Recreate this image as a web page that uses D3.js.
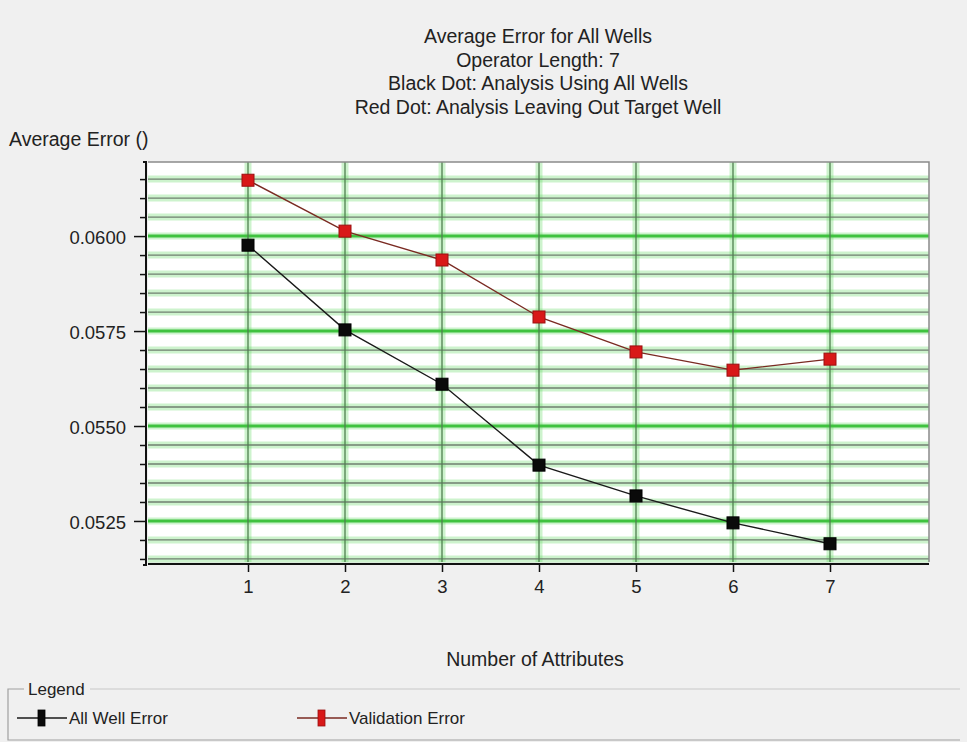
<!DOCTYPE html>
<html>
<head>
<meta charset="utf-8">
<script src="https://cdn.jsdelivr.net/npm/d3@7"></script>
<style>
  html, body { margin: 0; padding: 0; background: #f0f0f0; }
  svg { display: block; font-family: "Liberation Sans", Arial, sans-serif; }
</style>
</head>
<body>
<div id="chart"></div>
<script>
// ---------------- data ----------------
const attributes = [1, 2, 3, 4, 5, 6, 7];
const allWellError = [0.05976, 0.05753, 0.05610, 0.05397, 0.05316, 0.05245, 0.05190];
const validationError = [0.06147, 0.06013, 0.05937, 0.05787, 0.05695, 0.05647, 0.05676];
const yMajorTicks = [0.0525, 0.0550, 0.0575, 0.0600];
const xTicks = [1, 2, 3, 4, 5, 6, 7];
const titleLines = [
  "Average Error for All Wells",
  "Operator Length: 7",
  "Black Dot: Analysis Using All Wells",
  "Red Dot: Analysis Leaving Out Target Well"
];
const seriesNames = ["All Well Error", "Validation Error"];

// ---------------- setup ----------------
const width = 967, height = 742;
const plot = { left: 148, right: 929, top: 162, bottom: 562 };
const FONT = "Liberation Sans, Arial, sans-serif";

const svg = d3.select("#chart").append("svg")
  .attr("width", width).attr("height", height);

svg.append("rect").attr("width", width).attr("height", height).attr("fill", "#f0f0f0");

const x = d3.scaleLinear().domain([0, 8]).range([151, 927]);
const y = d3.scaleLinear().domain([0.05142, 0.06195]).range([562, 162]);

const minorTicks = d3.range(0.0515, 0.06195, 0.0005).map(v => +v.toFixed(4));
const isMajor = v => yMajorTicks.some(m => Math.abs(m - v) < 1e-7);

// ---------------- title ----------------
svg.append("g").selectAll("text").data(titleLines).join("text")
  .attr("x", 538).attr("y", (d, i) => 43 + i * 23.5)
  .attr("text-anchor", "middle").attr("font-size", 19.5).attr("fill", "#222")
  .text(d => d);

svg.append("text").attr("x", 9).attr("y", 146)
  .attr("font-size", 19.5).attr("fill", "#222").text("Average Error ()");

// ---------------- plot area ----------------
svg.append("rect")
  .attr("x", plot.left).attr("y", plot.top)
  .attr("width", plot.right - plot.left).attr("height", plot.bottom - plot.top)
  .attr("fill", "#ffffff");

const grid = svg.append("g");

// glow under every grid line
grid.selectAll(".hglow").data(minorTicks).join("line")
  .attr("x1", plot.left).attr("x2", plot.right)
  .attr("y1", d => y(d)).attr("y2", d => y(d))
  .attr("stroke", "#5ad65a").attr("stroke-opacity", 0.3).attr("stroke-width", 7);
grid.selectAll(".vglow").data(xTicks).join("line")
  .attr("y1", plot.top).attr("y2", plot.bottom)
  .attr("x1", d => x(d)).attr("x2", d => x(d))
  .attr("stroke", "#5ad65a").attr("stroke-opacity", 0.3).attr("stroke-width", 7);

// horizontal lines
grid.selectAll(".hline").data(minorTicks).join("line")
  .attr("x1", plot.left).attr("x2", plot.right)
  .attr("y1", d => y(d)).attr("y2", d => y(d))
  .attr("stroke", d => isMajor(d) ? "#3fc23f" : "#6f7f6f")
  .attr("stroke-width", d => isMajor(d) ? 3 : 1.3);

// vertical lines
grid.selectAll(".vline").data(xTicks).join("line")
  .attr("y1", plot.top).attr("y2", plot.bottom)
  .attr("x1", d => x(d)).attr("x2", d => x(d))
  .attr("stroke", "#4f7f4f").attr("stroke-width", 1.3);

// top/right border
svg.append("path")
  .attr("d", `M${plot.left},${plot.top}H${plot.right}V${plot.bottom}`)
  .attr("fill", "none").attr("stroke", "#8a8a8a").attr("stroke-width", 1.5);

// ---------------- axes ----------------
const yAxis = d3.axisLeft(y)
  .tickValues(minorTicks)
  .tickSize(6)
  .tickPadding(14)
  .tickFormat(d => isMajor(d) ? d3.format(".4f")(d) : "");
svg.append("g").attr("transform", "translate(146,0)").call(yAxis)
  .call(g => g.select(".domain").attr("d", `M-3,${plot.top}H0V${plot.bottom + 3}H-3`).attr("stroke", "#111").attr("stroke-width", 2))
  .call(g => g.selectAll(".tick line").attr("stroke", "#111").attr("stroke-width", 1.5)
    .attr("x2", d => isMajor(d) ? -12 : -6))
  .call(g => g.selectAll("text").attr("font-size", 18.5).attr("fill", "#222")
    .attr("dy", "0.38em").attr("font-family", FONT));

const xAxis = d3.axisBottom(x)
  .tickValues(xTicks)
  .tickSize(8)
  .tickPadding(8)
  .tickFormat(d3.format("d"));
svg.append("g").attr("transform", "translate(0,564)").call(xAxis)
  .call(g => g.select(".domain").attr("d", `M${plot.left},0H${plot.right}`).attr("stroke", "#111").attr("stroke-width", 2))
  .call(g => g.selectAll(".tick line").attr("stroke", "#111").attr("stroke-width", 1.5))
  .call(g => g.selectAll("text").attr("font-size", 18.5).attr("fill", "#222")
    .attr("font-family", FONT));

svg.append("text").attr("x", 535).attr("y", 666)
  .attr("text-anchor", "middle").attr("font-size", 19.5).attr("fill", "#222")
  .text("Number of Attributes");

// ---------------- series ----------------
const series = [
  { name: seriesNames[0], values: allWellError, line: "#1a1a1a", fill: "#0a0a0a", stroke: "#000" },
  { name: seriesNames[1], values: validationError, line: "#7a2a22", fill: "#d81818", stroke: "#9a1010" }
];

const lineGen = d3.line().x((d, i) => x(attributes[i])).y(d => y(d));

series.forEach(s => {
  svg.append("path").datum(s.values)
    .attr("d", lineGen).attr("fill", "none")
    .attr("stroke", s.line).attr("stroke-width", 1.4);
  svg.append("g").selectAll("rect").data(s.values).join("rect")
    .attr("x", (d, i) => x(attributes[i]) - 6)
    .attr("y", d => y(d) - 6)
    .attr("width", 12).attr("height", 12)
    .attr("fill", s.fill).attr("stroke", s.stroke).attr("stroke-width", 1);
});

// ---------------- legend ----------------
const lg = svg.append("g");
lg.append("path")
  .attr("d", "M24,689H8V740H960")
  .attr("fill", "none").attr("stroke", "#a0a0a0").attr("stroke-width", 1.2);
lg.append("path")
  .attr("d", "M90,689H960")
  .attr("fill", "none").attr("stroke", "#c8c8c8").attr("stroke-width", 1.2);
lg.append("text").attr("x", 28).attr("y", 695)
  .attr("font-size", 17).attr("fill", "#222").text("Legend");

const legendX = [17, 297];
const items = lg.selectAll(".item").data(series).join("g")
  .attr("transform", (d, i) => `translate(${legendX[i]},718)`);
items.append("line").attr("x1", 0).attr("x2", 50)
  .attr("stroke", d => d.line).attr("stroke-width", 1.4);
items.append("rect").attr("x", 21).attr("y", -8).attr("width", 7).attr("height", 16)
  .attr("fill", d => d.fill).attr("stroke", d => d.stroke).attr("stroke-width", 0.8);
items.append("text").attr("x", 52).attr("y", 6)
  .attr("font-size", 17).attr("fill", "#222").text(d => d.name);
</script>
</body>
</html>
